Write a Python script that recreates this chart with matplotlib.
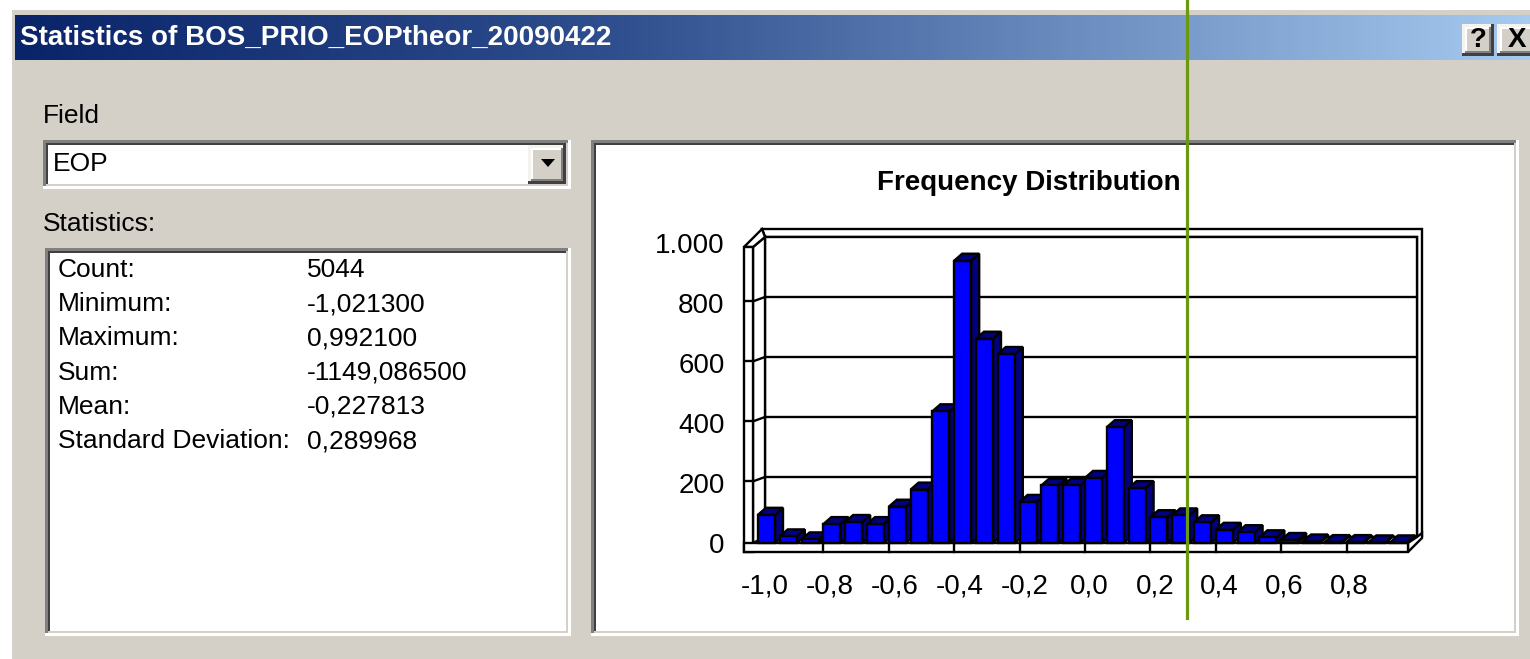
import numpy as np
import matplotlib
matplotlib.use("Agg")
import matplotlib.pyplot as plt
from matplotlib.patches import Rectangle, Polygon
from matplotlib.colors import LinearSegmentedColormap

plt.rcParams['font.family'] = ['Liberation Sans', 'DejaVu Sans']

# --- data ---
window_title = 'Statistics of BOS_PRIO_EOPtheor_20090422'
field_name = 'EOP'
stat_names = ['Count:', 'Minimum:', 'Maximum:', 'Sum:', 'Mean:', 'Standard Deviation:']
stat_values = ['5044', '-1,021300', '0,992100', '-1149,086500', '-0,227813', '0,289968']
v_min = -1.0213
v_max = 0.9921
n_bins = 30
counts = [94, 22, 12, 63, 70, 63, 121, 178, 439, 941, 681, 630, 137, 192, 192,
          217, 386, 183, 86, 92, 69, 44, 36, 19, 10, 5, 3, 3, 2, 2]
xtick_vals = [-1.0, -0.8, -0.6, -0.4, -0.2, 0.0, 0.2, 0.4, 0.6, 0.8]
xtick_labels = ['-1,0', '-0,8', '-0,6', '-0,4', '-0,2', '0,0', '0,2', '0,4', '0,6', '0,8']
ytick_vals = [0, 200, 400, 600, 800, 1000]
ytick_labels = ['0', '200', '400', '600', '800', '1.000']

W, H = 1530, 659
GRAY = '#D4D0C8'

fig = plt.figure(figsize=(W / 100, H / 100), dpi=100)
fig.patch.set_facecolor('white')

# pixel-space background for the dialog chrome
bg = fig.add_axes([0, 0, 1, 1])
bg.set_xlim(0, W)
bg.set_ylim(H, 0)
bg.axis('off')


def rect(ax, x0, y0, x1, y1, color, z=1):
    ax.add_patch(Rectangle((x0, y0), x1 - x0, y1 - y0, facecolor=color,
                           edgecolor='none', zorder=z))


def sunken(ax, x0, y0, x1, y1, face='white', t=2.6):
    rect(ax, x0, y0, x1, y1, '#FFFFFF')
    rect(ax, x0, y0, x1 - t, y1 - t, '#808080')
    rect(ax, x0 + t, y0 + t, x1 - t, y1 - t, GRAY)
    rect(ax, x0 + t, y0 + t, x1 - 2 * t, y1 - 2 * t, '#404040')
    rect(ax, x0 + 2 * t, y0 + 2 * t, x1 - 2 * t, y1 - 2 * t, face)


def raised(ax, x0, y0, x1, y1, t=2.6):
    rect(ax, x0, y0, x1, y1, '#404040')
    rect(ax, x0, y0, x1 - t, y1 - t, '#F4F3EE')
    rect(ax, x0 + t, y0 + t, x1 - t, y1 - t, '#808080')
    rect(ax, x0 + t, y0 + t, x1 - 2 * t, y1 - 2 * t, '#FFFFFF')
    rect(ax, x0 + 2 * t, y0 + 2 * t, x1 - 2 * t, y1 - 2 * t, GRAY)


# dialog body and title bar
rect(bg, 12, 10, W, H, GRAY)
cmap = LinearSegmentedColormap.from_list(
    'xp', [(0, '#0A246A'), (0.4, '#2F4F8E'), (1, '#A6CAF0')])
bg.imshow(np.linspace(0, 1, 256)[None, :], extent=(15, W, 60, 15), cmap=cmap,
          aspect='auto', zorder=1)
bg.set_xlim(0, W)
bg.set_ylim(H, 0)
bg.text(20, 38, window_title, color='white', fontsize=20, fontweight='bold',
        ha='left', va='center', zorder=3)

raised(bg, 1462, 24, 1494, 56)
raised(bg, 1497, 24, 1540, 56)
bg.text(1478, 40, '?', fontsize=20, fontweight='bold', ha='center', va='center', zorder=3)
bg.text(1517, 40, 'X', fontsize=20, fontweight='bold', ha='center', va='center', zorder=3)

# field combo
bg.text(43, 116, 'Field', fontsize=19, ha='left', va='center')
sunken(bg, 43, 140, 571, 189)
bg.text(53, 164, field_name, fontsize=19, ha='left', va='center', zorder=3)
raised(bg, 528, 145, 566, 184)
bg.add_patch(Polygon([(541, 159), (555, 159), (548, 167)], closed=True,
                     facecolor='black', edgecolor='none', zorder=3))

# statistics list
bg.text(43, 224, 'Statistics:', fontsize=19, ha='left', va='center')
sunken(bg, 45, 248, 571, 636)
for i, (name, val) in enumerate(zip(stat_names, stat_values)):
    yy = 270 + i * 34.2
    bg.text(58, yy, name, fontsize=19, ha='left', va='center', zorder=3)
    bg.text(307, yy, val, fontsize=19, ha='left', va='center', zorder=3)

# chart panel
sunken(bg, 591, 140, 1519, 636)
bg.text(1029, 183, 'Frequency Distribution', fontsize=20, fontweight='bold',
        ha='center', va='center', zorder=3)

# --- chart axes: front bar plane mapped to pixels ---
bin_w = (v_max - v_min) / n_bins
PITCH = 21.8          # px per bin
BAR0 = 758            # px of first bar's left edge
BASE = 543            # px of bar baseline
pxu = PITCH / bin_w   # px per x unit
cpp = 1 / 0.3         # counts per px


def X(px):
    return v_min + (px - BAR0) / pxu


def Y(py):
    return (BASE - py) * cpp


L, R, T, B = 740, 1430, 225, 560
ax = fig.add_axes([L / W, (H - B) / H, (R - L) / W, (B - T) / H])
ax.set_xlim(X(L), X(R))
ax.set_ylim(Y(B), Y(T))
ax.patch.set_visible(False)
for s in ax.spines.values():
    s.set_visible(False)

lw = 1.7


def poly(pts, fc='white', z=1):
    ax.add_patch(Polygon([(X(a), Y(b)) for a, b in pts], closed=True,
                         facecolor=fc, edgecolor='black', linewidth=lw,
                         zorder=z, clip_on=False))


def seg(pts, z=1.5):
    ax.plot([X(a) for a, b in pts], [Y(b) for a, b in pts], color='black',
            linewidth=lw, zorder=z, clip_on=False, solid_capstyle='butt')


# walls
BW_L, BW_R, BW_BOT = 765, 1417, 537
BW_TOP = BW_BOT - 1000 / cpp
poly([(762, BW_TOP - 8), (1422, BW_TOP - 8), (1422, 536), (1417, 536),
      (1417, BW_TOP), (765, BW_TOP)])
poly([(BW_L, BW_TOP), (BW_R, BW_TOP), (BW_R, BW_BOT), (BW_L, BW_BOT)])
poly([(753, BW_TOP + 10), (BW_L, BW_TOP), (BW_L, BW_BOT), (753, 545)])
poly([(744, BW_TOP + 10), (762, BW_TOP - 8), (BW_L, BW_TOP), (753, BW_TOP + 10)])
poly([(744, BW_TOP + 10), (753, BW_TOP + 10), (753, 552), (744, 552)])
for v in ytick_vals[1:-1]:
    yb = BW_BOT - v / cpp
    seg([(BW_L, yb), (BW_R, yb)])
    seg([(744, yb + 4), (754, yb + 4), (BW_L, yb)])

# floor slab
poly([(753, BASE), (1408, BASE), (BW_R, BW_BOT), (BW_L, BW_BOT)])
poly([(1408, BASE), (1408, 552), (1422, 538), (1422, 533), (BW_R, BW_BOT)])
poly([(744, BASE), (1408, BASE), (1408, 552), (744, 552)], z=1.6)
edges = v_min + bin_w * np.arange(n_bins + 1)
for e in edges[3:-1:3]:
    ax.plot([e, e], [Y(BASE), Y(552)], color='black', linewidth=lw,
            zorder=1.7, clip_on=False)

# bars with 3d side and top faces
bw = 17 / pxu
dx, dy = 8 / pxu, 7 * cpp
bars = ax.bar(edges[:-1], counts, width=bw, align='edge', color='#0000FF',
              edgecolor='black', linewidth=lw)
for i, (b, h) in enumerate(zip(bars, counts)):
    x0 = edges[i]
    x1 = x0 + bw
    z = 2 + 2 * i
    ax.add_patch(Polygon([(x1, 0), (x1 + dx, dy), (x1 + dx, h + dy), (x1, h)],
                         closed=True, facecolor='#000080', edgecolor='black',
                         linewidth=lw, zorder=z))
    ax.add_patch(Polygon([(x0, h), (x1, h), (x1 + dx, h + dy), (x0 + dx, h + dy)],
                         closed=True, facecolor='#000080', edgecolor='black',
                         linewidth=lw, zorder=z))
    b.set_zorder(z + 1)

ax.set_xticks(xtick_vals, labels=xtick_labels)
ax.set_yticks(ytick_vals, labels=ytick_labels)
ax.tick_params(axis='x', length=0, pad=10, labelsize=20)
ax.tick_params(axis='y', length=0, pad=11, labelsize=20)

# green marker line drawn over the screenshot
ov = fig.add_axes([0, 0, 1, 1])
ov.set_xlim(0, W)
ov.set_ylim(H, 0)
ov.axis('off')
ov.patch.set_alpha(0)
ov.plot([1187, 1187], [0, 618], color='#6B9A10', linewidth=2.3)

fig.savefig('out.png', dpi=100)
